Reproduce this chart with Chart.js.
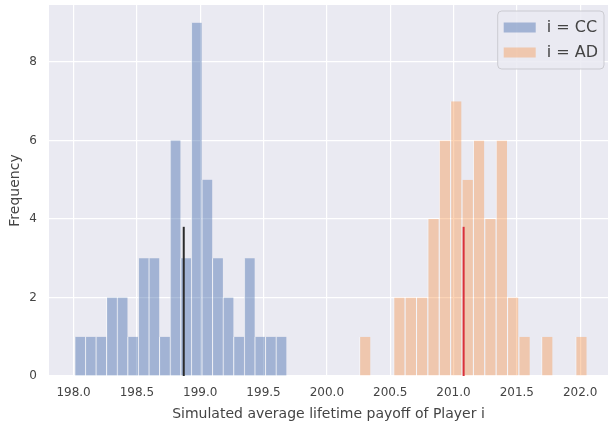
<!DOCTYPE html>
<html>
<head>
<meta charset="utf-8">
<script src="https://cdn.jsdelivr.net/npm/chart.js@4.4.1/dist/chart.umd.min.js"></script>
<style>
  html, body { margin: 0; padding: 0; background: #ffffff; }
  #wrap { width: 608px; height: 423px; position: relative; }
</style>
</head>
<body>
<div id="wrap"><canvas id="chart" width="608" height="423"></canvas></div>
<script>
// Histogram of simulated average lifetime payoffs, 20 bins per strategy
const ccLabel = 'i = CC';
const ccBinLow = 198.008;
const ccBinHigh = 199.681;
const ccCounts = [1, 1, 1, 2, 2, 1, 3, 3, 1, 6, 3, 9, 5, 3, 2, 1, 3, 1, 1, 1];

const adLabel = 'i = AD';
const adBinLow = 200.255;
const adBinHigh = 202.052;
const adCounts = [1, 0, 0, 2, 2, 2, 4, 6, 7, 5, 6, 4, 6, 2, 1, 0, 1, 0, 0, 1];

// Mean markers (vertical lines)
const ccMean = 198.87;
const adMean = 201.08;
const meanLineHeight = 3.8;

// Axis ticks
const xTicks = [198.0, 198.5, 199.0, 199.5, 200.0, 200.5, 201.0, 201.5, 202.0];
const yTicks = [0, 2, 4, 6, 8];

function binPoints(low, high, counts) {
  const w = (high - low) / counts.length;
  return counts.map((c, i) => ({ x: low + (i + 0.5) * w, y: c }));
}
const ccWidth = (ccBinHigh - ccBinLow) / ccCounts.length;
const adWidth = (adBinHigh - adBinLow) / adCounts.length;

const blueFill = 'rgba(76, 114, 176, 0.45)';
const orangeFill = 'rgba(247, 148, 72, 0.40)';
const edge = 'rgba(255, 255, 255, 0.55)';
const textColor = '#444444';
const font = 'DejaVu Sans';

const plotBackground = {
  id: 'plotBackground',
  beforeDraw(chart) {
    const { ctx, chartArea: a } = chart;
    ctx.save();
    ctx.fillStyle = '#eaeaf2';
    ctx.fillRect(a.left, a.top, a.right - a.left, a.bottom - a.top);
    ctx.restore();
  }
};

// Legend box drawn inside the upper right corner of the plot
const insideLegend = {
  id: 'insideLegend',
  afterDraw(chart) {
    const { ctx, chartArea: a } = chart;
    const items = chart.data.datasets.filter(d => d.type !== 'line');
    ctx.save();
    ctx.font = '16px "' + font + '"';
    const textW = Math.max(...items.map(d => ctx.measureText(d.label).width));
    const rowH = 25, pad = 6, patchW = 32, patchH = 10, gap = 11;
    const boxW = pad + patchW + gap + textW + pad;
    const boxH = pad + rowH * items.length + 2;
    const x = a.right - 4 - boxW;
    const y = a.top + 6;
    ctx.beginPath();
    ctx.roundRect(x, y, boxW, boxH, 4);
    ctx.fillStyle = 'rgba(234, 234, 242, 0.85)';
    ctx.fill();
    ctx.strokeStyle = 'rgba(200, 200, 205, 0.9)';
    ctx.lineWidth = 1;
    ctx.stroke();
    items.forEach((d, i) => {
      const cy = y + pad + rowH * i + rowH / 2 - 2;
      ctx.fillStyle = d.backgroundColor;
      ctx.fillRect(x + pad, cy - patchH / 2, patchW, patchH);
      ctx.fillStyle = textColor;
      ctx.textBaseline = 'middle';
      ctx.textAlign = 'left';
      ctx.fillText(d.label, x + pad + patchW + gap, cy);
    });
    ctx.restore();
  }
};

new Chart(document.getElementById('chart'), {
  type: 'bar',
  data: {
    datasets: [
      {
        label: ccLabel,
        data: binPoints(ccBinLow, ccBinHigh, ccCounts),
        backgroundColor: blueFill,
        borderColor: edge,
        borderWidth: { left: 1, right: 0, top: 0, bottom: 0 },
        borderSkipped: false,
        grouped: false,
        categoryPercentage: 1,
        barPercentage: 1,
        order: 2
      },
      {
        label: adLabel,
        data: binPoints(adBinLow, adBinHigh, adCounts),
        backgroundColor: orangeFill,
        borderColor: edge,
        borderWidth: { left: 1, right: 0, top: 0, bottom: 0 },
        borderSkipped: false,
        grouped: false,
        categoryPercentage: 1,
        barPercentage: adWidth / ccWidth,
        order: 2
      },
      {
        type: 'line',
        label: 'CC mean',
        data: [{ x: ccMean, y: 0 }, { x: ccMean, y: meanLineHeight }],
        borderColor: '#2b2b2b',
        borderWidth: 2,
        pointRadius: 0,
        fill: false,
        order: 0
      },
      {
        type: 'line',
        label: 'AD mean',
        data: [{ x: adMean, y: 0 }, { x: adMean, y: meanLineHeight }],
        borderColor: '#d9303c',
        borderWidth: 2,
        pointRadius: 0,
        fill: false,
        order: 0
      }
    ]
  },
  options: {
    responsive: false,
    animation: false,
    devicePixelRatio: 1,
    layout: { padding: { top: 5, right: 0, left: 0, bottom: 0 } },
    plugins: {
      legend: { display: false },
      tooltip: { enabled: false }
    },
    scales: {
      x: {
        type: 'linear',
        min: 197.806,
        max: 202.22,
        offset: false,
        afterBuildTicks(axis) { axis.ticks = xTicks.map(v => ({ value: v })); },
        afterFit(axis) { axis.height = 47; axis.paddingLeft = 0; axis.paddingRight = 0; },
        border: { display: false },
        grid: { color: '#ffffff', lineWidth: 1.2, drawTicks: false, offset: false },
        ticks: {
          padding: 10,
          color: textColor,
          font: { family: font, size: 12 },
          maxRotation: 0,
          callback: v => v.toFixed(1)
        },
        title: {
          display: true,
          text: 'Simulated average lifetime payoff of Player i',
          color: textColor,
          font: { family: font, size: 14 },
          padding: { top: 0, bottom: 0 }
        }
      },
      y: {
        min: 0,
        max: 9.45,
        afterBuildTicks(axis) { axis.ticks = yTicks.map(v => ({ value: v })); },
        afterFit(axis) { axis.width = 49; axis.paddingTop = 0; axis.paddingBottom = 0; },
        border: { display: false },
        grid: { color: '#ffffff', lineWidth: 1.2, drawTicks: false },
        ticks: {
          padding: 12,
          color: textColor,
          font: { family: font, size: 12 }
        },
        title: {
          display: true,
          text: 'Frequency',
          color: textColor,
          font: { family: font, size: 14 },
          padding: { top: 7, bottom: 0 }
        }
      }
    }
  },
  plugins: [plotBackground, insideLegend]
});
</script>
</body>
</html>
